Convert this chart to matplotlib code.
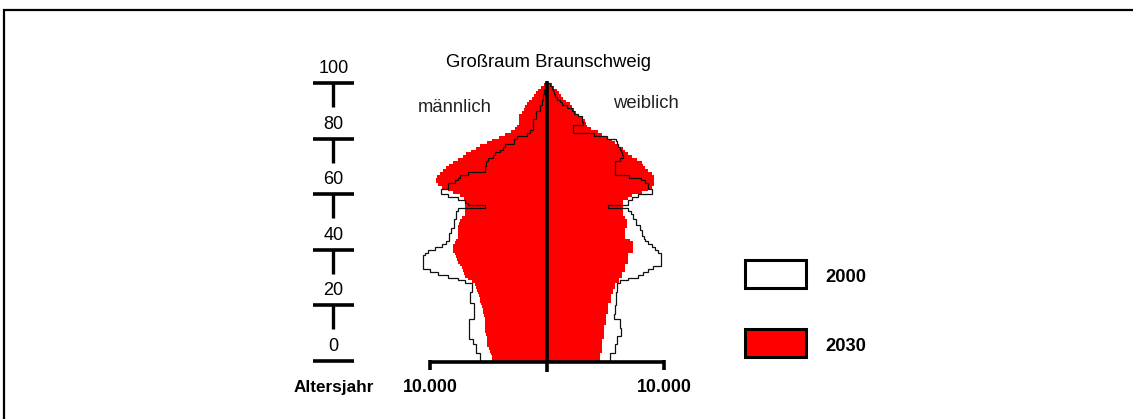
import numpy as np
import matplotlib
matplotlib.use("Agg")
import matplotlib.pyplot as plt
from matplotlib.patches import Rectangle

plt.rcParams['font.family'] = ['Liberation Sans', 'DejaVu Sans']

# ---------------- data (ages 0..99) ----------------
ages = np.arange(0, 100)

male_2030 = [4700, 4700, 4750, 4870, 4950, 5130, 5130, 5130, 5130, 5200,
             5300, 5300, 5300, 5300, 5300, 5300, 5350, 5470, 5500, 5560,
             5640, 5700, 5730, 5850, 5900, 5980, 6100, 6150, 6400, 6750,
             7000, 7100, 7200, 7270, 7400, 7600, 7700, 7800, 7900, 8030,
             8030, 8030, 7900, 7750, 7600, 7600, 7600, 7600, 7600, 7500,
             7440, 7300, 7010, 7010, 7010, 7010, 7010, 7010, 7100, 7440,
             8000, 8460, 8970, 9300, 9490, 9490, 9400, 9150, 8890, 8600,
             8400, 8030, 7610, 7180, 6900, 6500, 6100, 5730, 5130, 4700,
             4100, 3600, 3100, 2740, 2550, 2400, 2400, 2400, 2400, 2140,
             2000, 1880, 1710, 1500, 1300, 1100, 900, 770, 500, 280]

female_2030 = [4530, 4530, 4530, 4700, 4700, 4700, 4700, 4700, 4870, 4870,
               4870, 4870, 4870, 5040, 5040, 5040, 5040, 5210, 5210, 5210,
               5210, 5470, 5470, 5470, 5640, 5640, 5810, 5810, 6150, 6150,
               6410, 6410, 6670, 6670, 6670, 6920, 6920, 6920, 6920, 7350,
               7350, 7350, 7350, 7100, 6670, 6670, 6670, 6670, 6840, 6840,
               6840, 6700, 6500, 6500, 6500, 6500, 6500, 6500, 6920, 7270,
               8120, 8630, 8970, 9150, 9150, 9150, 9150, 8970, 8630, 8380,
               8200, 8120, 7700, 7270, 6920, 6700, 6500, 6070, 5810, 5530,
               5100, 4700, 4360, 3800, 3420, 3350, 3250, 3000, 2650, 2450,
               2300, 2150, 1960, 1600, 1370, 1200, 1000, 830, 600, 400]

male_2000 = [5730, 5730, 5730, 6070, 6070, 6070, 6320, 6320, 6670, 6670,
             6670, 6670, 6670, 6670, 6670, 6240, 6240, 6240, 6240, 6240,
             6240, 6580, 6580, 6580, 6580, 6410, 6410, 6410, 7010, 7610,
             8460, 9320, 10000, 10600, 10600, 10600, 10600, 10600, 10400, 10170,
             9570, 8970, 8600, 8380, 8380, 8380, 8200, 8200, 7950, 7950,
             7950, 7780, 7780, 7780, 7600, 5300, 6750, 7010, 7610, 8500,
             9060, 9060, 8460, 8460, 7870, 7600, 7440, 6750, 5300, 5300,
             5210, 5210, 5040, 4620, 4450, 4000, 3800, 3590, 2820, 2820,
             2570, 1710, 1450, 1200, 1200, 1200, 1200, 950, 950, 950,
             600, 600, 450, 400, 340, 340, 250, 250, 170, 170]

female_2000 = [5390, 5390, 5390, 5810, 5810, 5810, 5980, 5980, 5980, 6320,
               6320, 6320, 6240, 6240, 6240, 5730, 5730, 5810, 5810, 5810,
               5900, 5900, 5900, 5900, 5900, 5980, 5980, 5980, 6240, 6920,
               7780, 8210, 8630, 9060, 9740, 9740, 9740, 9740, 9740, 9490,
               9230, 8970, 8630, 8380, 8290, 8120, 8120, 7950, 7950, 7610,
               7610, 7350, 7350, 7180, 6920, 5210, 6920, 6920, 7270, 7780,
               8970, 8970, 8630, 8630, 8380, 8000, 7000, 5810, 5810, 5810,
               5810, 5810, 6240, 6500, 6410, 6300, 6200, 6100, 5980, 5900,
               5100, 4020, 2220, 2220, 2220, 3100, 3000, 2990, 2650, 2300,
               2140, 1710, 1280, 1100, 850, 680, 600, 500, 400, 250]

age_ticks = [0, 20, 40, 60, 80, 100]
age_tick_labels = ["0", "20", "40", "60", "80", "100"]
x_ticks = [-10000, 0, 10000]
x_tick_labels = ["10.000", "", "10.000"]
legend_labels = ["2000", "2030"]
title = "Großraum Braunschweig"

# ---------------- figure ----------------
W, H = 1133, 419
fig = plt.figure(figsize=(W / 100, H / 100), dpi=100)

# pixel mapping: value 0 -> x=547, 10000 -> 117 px ; age 0 -> y=361 (from top), 2.78 px/yr
X0, SX = 547.0, 117.0 / 10000
Y0, SY = 361.0, 2.78
xlim = ((0 - X0) / SX, (W - X0) / SX)
ylim = ((Y0 - H) / SY, (Y0 - 0) / SY)

ax = fig.add_axes([0, 0, 1, 1])
ax.set_xlim(*xlim)
ax.set_ylim(*ylim)
ax.axis('off')

def px2data(px, py):
    return (px - X0) / SX, (Y0 - py) / SY

def fx(px):
    return px / W

def fy(py):
    return 1 - py / H

edges = np.arange(0, 101)
m30 = -np.array(male_2030, dtype=float)
f30 = np.array(female_2030, dtype=float)
m00 = -np.array(male_2000, dtype=float)
f00 = np.array(female_2000, dtype=float)

# 2030 filled
ax.stairs(m30, edges, orientation='horizontal', fill=True, color='#ff0000', baseline=0, zorder=2)
ax.stairs(f30, edges, orientation='horizontal', fill=True, color='#ff0000', baseline=0, zorder=2)
# 2000 outline
ax.stairs(m00, edges, orientation='horizontal', fill=False, color='#111111', lw=0.9, baseline=0, zorder=3)
ax.stairs(f00, edges, orientation='horizontal', fill=False, color='#111111', lw=0.9, baseline=0, zorder=3)

# centre line
_, ytop = px2data(0, 81.5)
_, ybot = px2data(0, 372)
ax.plot([0, 0], [ybot, ytop], color='black', lw=2.6, solid_capstyle='butt', zorder=5)

# x axis line and ticks
_, yax = px2data(0, 361.5)
_, ytk_top = px2data(0, 359.5)
_, ytk_bot = px2data(0, 370)
ax.plot([x_ticks[0], x_ticks[-1]], [yax, yax], color='black', lw=2.6, solid_capstyle='butt', zorder=5)
for xt, lab in zip(x_ticks, x_tick_labels):
    if xt == 0:
        continue
    ax.plot([xt, xt], [ytk_top, ytk_bot], color='black', lw=2.6, solid_capstyle='butt', zorder=5)
    ax.text(xt, px2data(0, 392)[1], lab, ha='center', va='baseline', fontsize=12.8,
            fontweight='bold', color='black')

# age axis (custom tick bars)
ax_x, _ = px2data(333.5, 0)
bar_l, _ = px2data(313, 0)
bar_r, _ = px2data(354, 0)
for a, lab in zip(age_ticks, age_tick_labels):
    ax.plot([bar_l, bar_r], [a, a], color='black', lw=2.6, solid_capstyle='butt')
    if a > 0:
        ax.plot([ax_x, ax_x], [a, a - 24 / SY], color='black', lw=2.4, solid_capstyle='butt')
    ax.text(ax_x, a + 10 / SY, lab, ha='center', va='baseline', fontsize=13, color='black')

fig.text(fx(334), fy(392), "Altersjahr", ha='center', va='baseline', fontsize=12.3,
         fontweight='bold', color='black')

# title and side labels
fig.text(fx(548), fy(67), title, ha='center', va='baseline', fontsize=13.3, color='black')
fig.text(fx(418), fy(111.5), "männlich", ha='left', va='baseline', fontsize=13.3, color='#222222')
fig.text(fx(613), fy(108), "weiblich", ha='left', va='baseline', fontsize=13.3, color='#222222')

# legend boxes
box_specs = [(260, 288, 'white'), (329, 357, '#ff0000')]
for (t, b, c), lab in zip(box_specs, legend_labels):
    x0d, y0d = px2data(745.5, b)
    x1d, y1d = px2data(806.5, t)
    ax.add_patch(Rectangle((x0d, y0d), x1d - x0d, y1d - y0d, facecolor=c,
                           edgecolor='black', lw=2.2, zorder=4))
    fig.text(fx(825), fy(b - 6), lab, ha='left', va='baseline', fontsize=13.2,
             fontweight='bold', color='black')

# outer frame
fig.patches.append(Rectangle((fx(3.5), fy(440)), fx(1160) - fx(3.5), fy(10.5) - fy(440),
                             transform=fig.transFigure, fill=False, edgecolor='black',
                             lw=1.6, clip_on=False))

fig.savefig("out.png", dpi=100)
